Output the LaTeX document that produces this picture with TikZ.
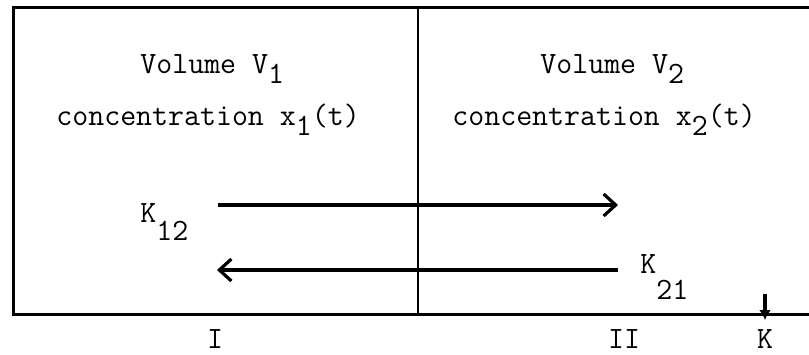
\documentclass[tikz,border=0pt]{standalone}
\usepackage{fontspec}
\usepackage{tikz}
\usetikzlibrary{arrows.meta}
\newcommand{\dn}[2][-0.35em]{\raisebox{#1}{#2}}
\tikzset{
  cwall/.style={line width=1.5pt,draw=black},
  cdiv/.style={line width=1.1pt,draw=black},
  cflow/.style={-{Straight Barb[length=6pt,width=11pt]},line width=1.6pt},
  cout/.style={-{Latex[length=5pt,width=6pt]},line width=1.6pt},
  ctext/.style={inner sep=0pt,anchor=base west},
  clab/.style={inner sep=0pt,anchor=base}
}

\begin{document}
\begin{tikzpicture}[x=0.5pt,y=-0.5pt,font=\ttfamily\fontsize{15.5}{18}\selectfont]
  \useasboundingbox (0,0) rectangle (809,354);
  \draw[cwall] (809,7) -- (13,7) -- (13,314) -- (809,314);
  \draw[cdiv] (418,7) -- (418,314);
  \node[ctext] (vol1) at (140,73) {Volume V\dn{1}};
  \node[ctext] (conc1) at (56,125) {concentration x\dn{1}(t)};
  \node[ctext] (vol2) at (540,73) {Volume V\dn{2}};
  \node[ctext] (conc2) at (452,125) {concentration x\dn{2}(t)};
  \node[ctext] (k12) at (140,222) {K\dn[-0.6em]{12}};
  \node[ctext] (k21) at (640,273) {K\dn[-0.85em]{21}};
  \coordinate (a1) at (218,205); \coordinate (b1) at (618,205);
  \coordinate (a2) at (618,270); \coordinate (b2) at (217,270);
  \draw[cflow] (a1) -- (b1);
  \draw[cflow] (a2) -- (b2);
  \coordinate (kt) at (765,294); \coordinate (kb) at (765,320);
  \draw[cout] (kt) -- (kb);
  \node[clab] (lab1) at (215,348) {I};
  \node[clab] (lab2) at (624,348) {II};
  \node[clab] (labk) at (765,348) {K};
\end{tikzpicture}
\end{document}
